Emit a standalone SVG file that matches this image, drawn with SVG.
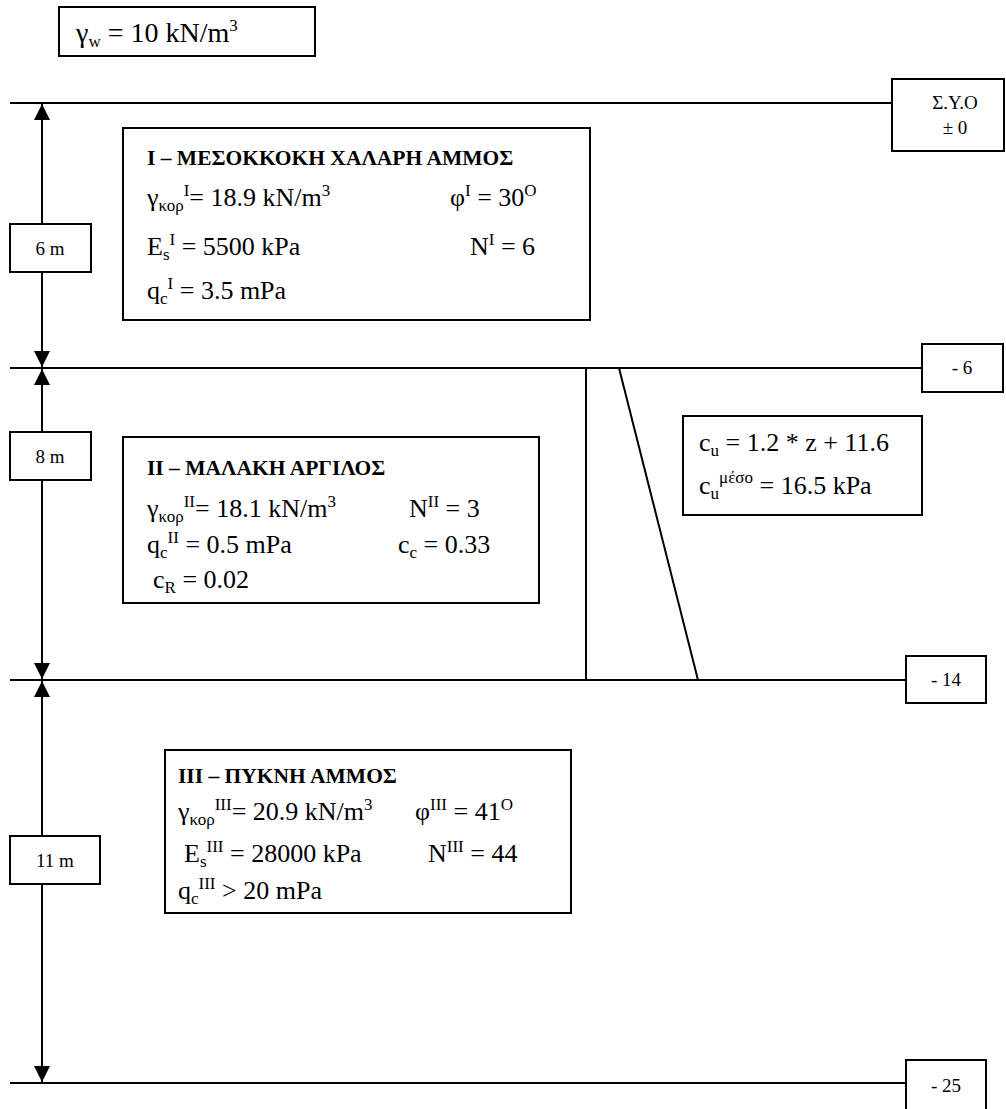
<svg xmlns="http://www.w3.org/2000/svg" width="1006" height="1109" viewBox="0 0 1006 1109" font-family="'Liberation Serif', 'Times New Roman', serif">
  <style>
    text { font-family: "Liberation Serif", "Times New Roman", serif; fill: #000; }
    .body { font-size: 26px; }
    .big { font-size: 28px; }
    .title { font-size: 21.5px; font-weight: bold; }
    .lvl { font-size: 19px; text-anchor: middle; }
    .s { font-size: 17px; }
    .box { fill: #fff; stroke: #000; stroke-width: 2; }
    .ln { fill: none; stroke: #000; stroke-width: 2; }
    .dim { fill: none; stroke: #000; stroke-width: 2; marker-start: url(#head); marker-end: url(#head); }
  </style>
  <defs>
    <marker id="head" viewBox="0 0 16 16" refX="16" refY="8" markerWidth="16" markerHeight="16" markerUnits="userSpaceOnUse" orient="auto-start-reverse">
      <path d="M0,0 L16,8 L0,16 Z" fill="#000"/>
    </marker>
  </defs>
  <rect width="1006" height="1109" fill="#fff"/>

  <!-- level lines, profile lines and depth dimensions -->
  <g id="connectors">
    <line class="ln" x1="10" y1="103" x2="892" y2="103"/>
    <line class="ln" x1="10" y1="368" x2="922" y2="368"/>
    <line class="ln" x1="10" y1="680" x2="906" y2="680"/>
    <line class="ln" x1="10" y1="1083" x2="906" y2="1083"/>
    <line class="ln" x1="586" y1="368" x2="586" y2="680"/>
    <line class="ln" x1="619" y1="368" x2="698" y2="680"/>
    <line class="dim" x1="42" y1="104" x2="42" y2="367"/>
    <line class="dim" x1="42" y1="369" x2="42" y2="679"/>
    <line class="dim" x1="42" y1="681" x2="42" y2="1082"/>
  </g>

  <g id="water">
    <rect class="box" x="59" y="7" width="256" height="49"/>
    <text class="big" x="76" y="42">γ<tspan class="s" dy="5">w</tspan><tspan dy="-5"> = 10 kN/m</tspan><tspan class="s" dy="-11">3</tspan></text>
  </g>

  <g id="level-0">
    <rect class="box" x="892" y="79" width="112" height="72"/>
    <text class="lvl" x="955" y="109">Σ.Υ.Ο</text>
    <text class="lvl" x="955" y="134">± 0</text>
  </g>
  <g id="level-6">
    <rect class="box" x="922" y="344" width="81" height="48"/>
    <text class="lvl" x="962" y="374">- 6</text>
  </g>
  <g id="level-14">
    <rect class="box" x="906" y="656" width="80" height="47"/>
    <text class="lvl" x="946" y="686">- 14</text>
  </g>
  <g id="level-25">
    <rect class="box" x="906" y="1060" width="80" height="60"/>
    <text class="lvl" x="946" y="1092">- 25</text>
  </g>

  <g id="depth-6">
    <rect class="box" x="10" y="224" width="81" height="48"/>
    <text class="lvl" x="50" y="255">6 m</text>
  </g>
  <g id="depth-8">
    <rect class="box" x="10" y="432" width="81" height="48"/>
    <text class="lvl" x="50" y="463">8 m</text>
  </g>
  <g id="depth-11">
    <rect class="box" x="10" y="836" width="90" height="48"/>
    <text class="lvl" x="55" y="867">11 m</text>
  </g>

  <g id="layer-1">
    <rect class="box" x="123" y="128" width="467" height="192"/>
    <text class="title" x="147" y="165">I – ΜΕΣΟΚΚΟΚΗ ΧΑΛΑΡΗ ΑΜΜΟΣ</text>
    <text class="body" x="147" y="206">γ<tspan class="s" dy="5">κορ</tspan><tspan class="s" dy="-15">I</tspan><tspan dy="10">= 18.9 kN/m</tspan><tspan class="s" dy="-10">3</tspan></text>
    <text class="body" x="450" y="206">φ<tspan class="s" dy="-10">I</tspan><tspan dy="10"> = 30</tspan><tspan class="s" dy="-10">O</tspan></text>
    <text class="body" x="147" y="255">E<tspan class="s" dy="5">s</tspan><tspan class="s" dy="-15">I</tspan><tspan dy="10"> = 5500 kPa</tspan></text>
    <text class="body" x="470" y="255">N<tspan class="s" dy="-10">I</tspan><tspan dy="10"> = 6</tspan></text>
    <text class="body" x="147" y="299">q<tspan class="s" dy="5">c</tspan><tspan class="s" dy="-15">I</tspan><tspan dy="10"> = 3.5 mPa</tspan></text>
  </g>

  <g id="layer-2">
    <rect class="box" x="123" y="437" width="416" height="166"/>
    <text class="title" x="147" y="475">II – ΜΑΛΑΚΗ ΑΡΓΙΛΟΣ</text>
    <text class="body" x="147" y="517">γ<tspan class="s" dy="5">κορ</tspan><tspan class="s" dy="-15">II</tspan><tspan dy="10">= 18.1 kN/m</tspan><tspan class="s" dy="-10">3</tspan></text>
    <text class="body" x="409" y="517">N<tspan class="s" dy="-10">II</tspan><tspan dy="10"> = 3</tspan></text>
    <text class="body" x="147" y="553">q<tspan class="s" dy="5">c</tspan><tspan class="s" dy="-15">II</tspan><tspan dy="10"> = 0.5 mPa</tspan></text>
    <text class="body" x="398" y="553">c<tspan class="s" dy="5">c</tspan><tspan dy="-5"> = 0.33</tspan></text>
    <text class="body" x="153" y="588">c<tspan class="s" dy="5">R</tspan><tspan dy="-5"> = 0.02</tspan></text>
  </g>

  <g id="undrained-strength">
    <rect class="box" x="683" y="416" width="239" height="99"/>
    <text class="body" x="699" y="451">c<tspan class="s" dy="5">u</tspan><tspan dy="-5"> = 1.2 * z + 11.6</tspan></text>
    <text class="body" x="699" y="494">c<tspan class="s" dy="5">u</tspan><tspan class="s" dy="-16">μέσο</tspan><tspan dy="11"> = 16.5 kPa</tspan></text>
  </g>

  <g id="layer-3">
    <rect class="box" x="165" y="750" width="406" height="163"/>
    <text class="title" x="178" y="783">III – ΠΥΚΝΗ ΑΜΜΟΣ</text>
    <text class="body" x="178" y="820">γ<tspan class="s" dy="5">κορ</tspan><tspan class="s" dy="-15">III</tspan><tspan dy="10">= 20.9 kN/m</tspan><tspan class="s" dy="-10">3</tspan></text>
    <text class="body" x="415" y="820">φ<tspan class="s" dy="-10">III</tspan><tspan dy="10"> = 41</tspan><tspan class="s" dy="-10">O</tspan></text>
    <text class="body" x="184" y="862">E<tspan class="s" dy="5">s</tspan><tspan class="s" dy="-15">III</tspan><tspan dy="10"> = 28000 kPa</tspan></text>
    <text class="body" x="428" y="862">N<tspan class="s" dy="-10">III</tspan><tspan dy="10"> = 44</tspan></text>
    <text class="body" x="178" y="899">q<tspan class="s" dy="5">c</tspan><tspan class="s" dy="-15">III</tspan><tspan dy="10"> &gt; 20 mPa</tspan></text>
  </g>
</svg>
